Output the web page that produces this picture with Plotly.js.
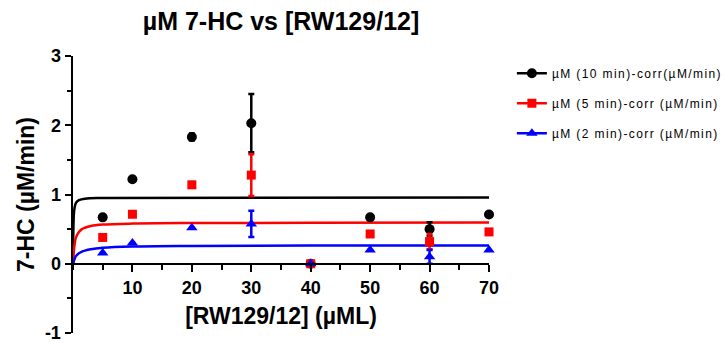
<!DOCTYPE html>
<html>
<head>
<meta charset="utf-8">
<script src="https://cdn.plot.ly/plotly-3.0.1.min.js"></script>
<style>
html,body{margin:0;padding:0;background:#fff;}
#chart{width:727px;height:349px;}
.legendtext{letter-spacing:1.4px;}
</style>
</head>
<body>
<div id="chart"></div>
<script>
// Concentrations [RW129/12] (µM)
const xConc = [5, 10, 20, 30, 40, 50, 60, 70];

// µM (10 min)-corr (µM/min)
const y10 = [0.67, 1.22, 1.83, 2.03, 0, 0.67, 0.50, 0.71];
const e10 = [0, 0, 0.05, 0.42, 0, 0, 0.10, 0];
// µM (5 min)-corr (µM/min)
const y5 = [0.38, 0.715, 1.14, 1.28, 0, 0.43, 0.32, 0.46];
const e5 = [0, 0, 0, 0.30, 0, 0, 0.11, 0];
// µM (2 min)-corr (µM/min)
const y2 = [0.155, 0.30, 0.52, 0.575, 0, 0.20, 0.10, 0.20];
const e2 = [0, 0, 0, 0.19, 0, 0, 0.10, 0];

// Fitted curves
const fit10X = [0, 0.1, 0.2, 0.4, 0.7, 1, 2, 5, 70];
const fit10Y = [0, 0.63, 0.77, 0.86, 0.90, 0.92, 0.94, 0.95, 0.957];
const fit5X = [0, 0.25, 0.5, 1, 1.5, 2, 3, 5, 10, 20, 40, 70];
const fit5Y = [0, 0.27, 0.38, 0.46, 0.50, 0.52, 0.545, 0.565, 0.58, 0.588, 0.592, 0.594];
const fit2X = [0, 0.5, 1, 1.5, 2, 3, 5, 10, 20, 40, 70];
const fit2Y = [0, 0.11, 0.15, 0.175, 0.19, 0.21, 0.23, 0.248, 0.257, 0.262, 0.265];

const names = ["µM (10 min)-corr(µM/min)", "µM (5 min)-corr (µM/min)", "µM (2 min)-corr (µM/min)"];
const xTicks = [10, 20, 30, 40, 50, 60, 70];
const yTicks = [-1, 0, 1, 2, 3];

const colors = ["#000000", "#ff0000", "#0000ff"];
const symbols = ["circle", "square", "triangle-up"];
const sizes = [10, 9, 10];
const ys = [y10, y5, y2];
const es = [e10, e5, e2];
const fx = [fit10X, fit5X, fit2X];
const fy = [fit10Y, fit5Y, fit2Y];

const traces = [];
for (let i = 0; i < 3; i++) {
  traces.push({
    x: fx[i], y: fy[i], type: 'scatter', mode: 'lines',
    line: {color: colors[i], width: 2.5, shape: 'spline'},
    showlegend: false, hoverinfo: 'skip', cliponaxis: false
  });
}
for (let i = 0; i < 3; i++) {
  traces.push({
    x: xConc, y: ys[i], type: 'scatter', mode: 'markers',
    marker: {color: colors[i], symbol: symbols[i], size: sizes[i]},
    error_y: {type: 'data', array: es[i], visible: true, color: colors[i], thickness: 2.5, width: 3},
    showlegend: false, cliponaxis: false
  });
}
for (let i = 0; i < 3; i++) {
  traces.push({
    x: [null], y: [null], type: 'scatter', mode: 'lines+markers',
    name: names[i], legendgroup: 'g' + i,
    line: {color: colors[i], width: 2.5},
    marker: {color: colors[i], symbol: symbols[i], size: sizes[i]}
  });
}

const F = '"Liberation Sans", Arial, sans-serif';
const layout = {
  width: 727, height: 349,
  margin: {l: 73, r: 238, t: 56, b: 16, autoexpand: false},
  paper_bgcolor: '#fff', plot_bgcolor: '#fff',
  font: {family: F, color: '#000'},
  title: {text: '<b>µM 7-HC vs [RW129/12]</b>', font: {size: 25, family: F, color: '#000'},
          x: 0.5, xref: 'paper', xanchor: 'center', y: 1 - 21/349, yref: 'container', yanchor: 'middle'},
  xaxis: {
    range: [0, 70], anchor: 'free', position: 0.25,
    showgrid: false, zeroline: false,
    showline: true, linecolor: '#000', linewidth: 2.5,
    tickmode: 'array', tickvals: xTicks, ticktext: xTicks.map(String),
    ticks: 'outside', ticklen: 7, tickwidth: 2, tickcolor: '#000',
    minor: {dtick: 5, tick0: 0, ticks: 'outside', ticklen: 5, tickwidth: 2, tickcolor: '#000', showgrid: false},
    tickfont: {size: 18, family: F, color: '#000', weight: 'bold'},
    title: {text: '<b>[RW129/12] (µML)</b>', font: {size: 23, family: F, color: '#000'}, standoff: 10}
  },
  yaxis: {
    range: [-1, 3], domain: [0, 1],
    showgrid: false, zeroline: false,
    showline: true, linecolor: '#000', linewidth: 2.5,
    tickmode: 'array', tickvals: yTicks, ticktext: yTicks.map(String),
    ticks: 'outside', ticklen: 6, tickwidth: 2, tickcolor: '#000',
    minor: {dtick: 0.5, tick0: 0, ticks: 'outside', ticklen: 4, tickwidth: 2, tickcolor: '#000', showgrid: false},
    tickfont: {size: 18, family: F, color: '#000', weight: 'bold'},
    title: {text: '<b>7-HC (µM/min)</b>', font: {size: 23, family: F, color: '#000'}, standoff: 4}
  },
  legend: {
    x: 1.055, xanchor: 'left', y: 0.99, yanchor: 'top',
    font: {size: 12, family: F, color: '#000'},
    tracegroupgap: 11, bgcolor: 'rgba(0,0,0,0)'
  },
  showlegend: true
};

Plotly.newPlot('chart', traces, layout, {displayModeBar: false, staticPlot: true});
</script>
</body>
</html>
